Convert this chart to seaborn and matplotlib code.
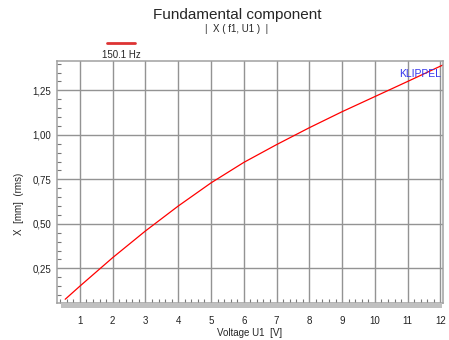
import numpy as np
import pandas as pd
import matplotlib
matplotlib.use("Agg")
import matplotlib.pyplot as plt
import seaborn as sns
from matplotlib.ticker import MultipleLocator, FuncFormatter
from matplotlib.patches import Rectangle

voltage = [0.55, 1, 2, 3, 4, 5, 6, 7, 8, 9, 10, 11, 12.07]
displacement = [0.076, 0.15, 0.31, 0.46, 0.60, 0.73, 0.845, 0.945, 1.04, 1.13, 1.215, 1.30, 1.392]
series_label = "150.1 Hz"
x_ticks = [1, 2, 3, 4, 5, 6, 7, 8, 9, 10, 11, 12]
y_ticks = [0.25, 0.50, 0.75, 1.00, 1.25]

sns.set_theme(style="white")
plt.rcParams['font.family'] = ['Liberation Sans', 'DejaVu Sans']

df = pd.DataFrame({"U": voltage, "X": displacement})

fig = plt.figure(figsize=(4.49, 3.40), dpi=100)
ax = fig.add_axes([57/449, 1-303/340, (443-57)/449, (303-61)/340])

sns.lineplot(data=df, x="U", y="X", ax=ax, color="#ff0000", linewidth=0.9)

ax.set_xlim(0.30, 12.08)
ax.set_ylim(0.055, 1.415)
ax.set_xticks(x_ticks)
ax.set_yticks(y_ticks)
ax.xaxis.set_minor_locator(MultipleLocator(0.2))
ax.yaxis.set_minor_locator(MultipleLocator(0.05))
ax.yaxis.set_major_formatter(FuncFormatter(lambda v, p: f"{v:.2f}".replace(".", ",")))
ax.grid(True, which="major", color="#939393", linewidth=1.0)
ax.set_axisbelow(True)

ax.tick_params(axis="both", which="major", labelsize=7, length=0, colors="#222222")
ax.tick_params(axis="x", which="major", pad=9)
ax.tick_params(axis="y", which="major", pad=4)
ax.tick_params(axis="x", which="minor", direction="in", length=3, color="#777777", width=0.8, bottom=True)
ax.tick_params(axis="y", which="minor", direction="in", length=3, color="#777777", width=0.8, left=True)

for s in ["top", "right", "left", "bottom"]:
    ax.spines[s].set_color("#a0a0a0")
    ax.spines[s].set_linewidth(1.1)

# grey band under the x axis
fig.add_artist(Rectangle((61/449, 1-308/340), (442-61)/449, 5/340,
                         transform=fig.transFigure, facecolor="#c0c0c0", edgecolor="none"))

ax.set_xlabel("Voltage U1  [V]", fontsize=7, labelpad=2)
ax.set_ylabel("X  [mm]  (rms)", fontsize=7)
ax.yaxis.set_label_coords(-0.085, 0.41)

ax.text(0.995, 0.965, "KLIPPEL", transform=ax.transAxes, ha="right", va="top",
        fontsize=7.5, color="#3333ee")

fig.text(237/449, 1-15/340, "Fundamental component", ha="center", va="center", fontsize=11)
fig.text(237/449, 1-29/340, "|  X ( f1, U1 )  |", ha="center", va="center", fontsize=7)
fig.add_artist(plt.Line2D([107/449, 135/449], [1-43/340, 1-43/340], color="#dd3333", linewidth=2.0))
fig.text(121/449, 1-55/340, series_label, ha="center", va="center", fontsize=7)

fig.savefig("out.png", dpi=100)
